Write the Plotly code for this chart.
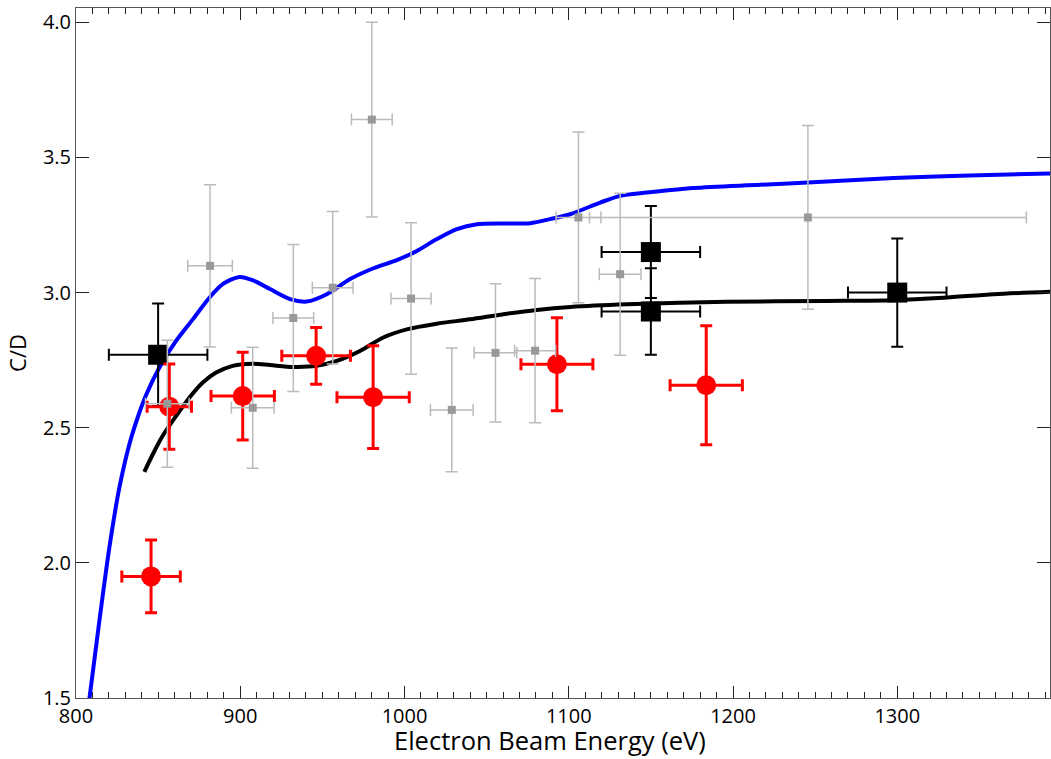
import plotly.graph_objects as go

# --- Model curves ---
blue_x = [808.1, 814.2, 820.3, 826.4, 832.5, 837.5, 842.6, 850.7, 860.9, 871.1, 881.2, 889.3, 899.4,
          907.5, 918.1, 930.3, 940.5, 952.7, 966.9, 981.1, 995.3, 1007.5, 1019.7, 1031.9, 1044.1,
          1060.3, 1076.5, 1088.7, 1100.9, 1119.1, 1131.3, 1147.5, 1175.9, 1216.6, 1257.2, 1297.8,
          1338.4, 1393.2]
blue_y = [1.494, 1.784, 2.056, 2.278, 2.439, 2.537, 2.620, 2.722, 2.821, 2.901, 2.981, 3.031, 3.058,
          3.046, 3.013, 2.976, 2.967, 2.994, 3.050, 3.090, 3.120, 3.154, 3.198, 3.235, 3.253,
          3.256, 3.257, 3.272, 3.290, 3.333, 3.358, 3.370, 3.387, 3.399, 3.411, 3.424,
          3.432, 3.441]

black_curve_x = [841.6, 846.7, 852.8, 860.9, 869.0, 877.2, 885.3, 895.4, 907.5, 918.1, 932.3, 946.5,
                 958.7, 972.9, 987.1, 1001.4, 1019.6, 1039.9, 1060.2, 1080.6, 1100.9, 1135.4, 1196.3,
                 1257.2, 1297.8, 1328.2, 1358.7, 1393.2]
black_curve_y = [2.337, 2.401, 2.470, 2.543, 2.611, 2.667, 2.704, 2.729, 2.737, 2.732, 2.725, 2.729,
                 2.747, 2.784, 2.834, 2.864, 2.885, 2.901, 2.920, 2.936, 2.947, 2.957, 2.966,
                 2.969, 2.972, 2.981, 2.994, 3.003]

# --- Black squares ---
sq_x = [850, 1150, 1150, 1300]
sq_y = [2.77, 3.15, 2.93, 3.00]
sq_xerr = [30, 30, 30, 30]
sq_yerr = [0.19, 0.17, 0.16, 0.20]

# --- Red circles ---
red_x = [845.7, 856.8, 901.5, 946.2, 980.9, 1092.8, 1183.7]
red_y = [1.95, 2.578, 2.617, 2.766, 2.613, 2.735, 2.657]
red_xerr = [17.8, 13.5, 19.3, 20.9, 22.0, 21.9, 22.0]
red_yerr = [0.135, 0.158, 0.162, 0.105, 0.19, 0.172, 0.22]

# --- Gray small squares ---
gray_x = [855.6, 881.6, 907.6, 932.3, 956.3, 980.1, 1004.0, 1028.8, 1055.4, 1079.5, 1105.9, 1131.3, 1245.6]
gray_y = [2.589, 3.099, 2.574, 2.906, 3.018, 3.640, 2.978, 2.566, 2.777, 2.785, 3.278, 3.068, 3.278]
gray_xerr = [13.3, 13.6, 13.0, 12.4, 12.4, 12.4, 12.2, 13.0, 13.0, 12.5, 13.7, 12.7, 133.0]
gray_yerr = [0.235, 0.30, 0.224, 0.272, 0.282, 0.36, 0.28, 0.229, 0.256, 0.267, 0.316, 0.30, 0.34]

x_title = "Electron Beam Energy (eV)"
y_title = "C/D"

fig = go.Figure()

fig.add_trace(go.Scatter(x=blue_x, y=blue_y, mode="lines",
                         line=dict(color="#0000ff", width=4, shape="spline", smoothing=0.8),
                         hoverinfo="skip", showlegend=False))
fig.add_trace(go.Scatter(x=black_curve_x, y=black_curve_y, mode="lines",
                         line=dict(color="#000000", width=4, shape="spline", smoothing=0.8),
                         hoverinfo="skip", showlegend=False))

fig.add_trace(go.Scatter(
    x=sq_x, y=sq_y, mode="markers",
    marker=dict(symbol="square", size=20, color="#000000", line=dict(width=0)),
    error_x=dict(type="data", array=sq_xerr, color="#000000", thickness=2, width=6),
    error_y=dict(type="data", array=sq_yerr, color="#000000", thickness=2, width=6),
    showlegend=False))

fig.add_trace(go.Scatter(
    x=red_x, y=red_y, mode="markers",
    marker=dict(symbol="circle", size=20, color="#ff0000", line=dict(width=0)),
    error_x=dict(type="data", array=red_xerr, color="#ff0000", thickness=3, width=6),
    error_y=dict(type="data", array=red_yerr, color="#ff0000", thickness=3, width=6),
    showlegend=False))

fig.add_trace(go.Scatter(
    x=gray_x, y=gray_y, mode="markers",
    marker=dict(symbol="square", size=8, color="#999999", line=dict(width=0)),
    error_x=dict(type="data", array=gray_xerr, color="#bbbbbb", thickness=1.5, width=6),
    error_y=dict(type="data", array=gray_yerr, color="#bbbbbb", thickness=1.5, width=6),
    showlegend=False))

font_family = "Open Sans"

fig.update_layout(
    width=1051, height=759,
    margin=dict(l=76, r=1, t=8, b=61),
    paper_bgcolor="white", plot_bgcolor="white",
    font=dict(family=font_family, color="black", size=20),
    xaxis=dict(
        range=[800, 1393], showgrid=False, zeroline=False,
        showline=True, linecolor="#555555", linewidth=1, mirror="ticks",
        ticks="inside", ticklen=12, tickwidth=1, tickcolor="#222222",
        tickmode="linear", tick0=800, dtick=100,
        minor=dict(ticks="inside", ticklen=6, dtick=10, tickcolor="#222222", showgrid=False),
        tickfont=dict(family=font_family, size=20, color="black"),
    ),
    yaxis=dict(
        range=[1.5, 4.053], showgrid=False, zeroline=False,
        showline=True, linecolor="#555555", linewidth=1, mirror="ticks",
        ticks="inside", ticklen=13, tickwidth=1, tickcolor="#222222",
        tickmode="linear", tick0=1.5, dtick=0.5, tickformat=".1f",
        tickfont=dict(family=font_family, size=20, color="black"),
        title=dict(text=y_title, font=dict(family=font_family, size=22, color="black"), standoff=10),
    ),
    annotations=[
        dict(text=x_title, xref="paper", yref="paper",
             x=(550 - 76) / 974, y=0, xanchor="center", yanchor="bottom",
             yshift=-61, showarrow=False,
             font=dict(family=font_family, size=25.5, color="black")),
    ],
)

fig.write_html("out.html")
